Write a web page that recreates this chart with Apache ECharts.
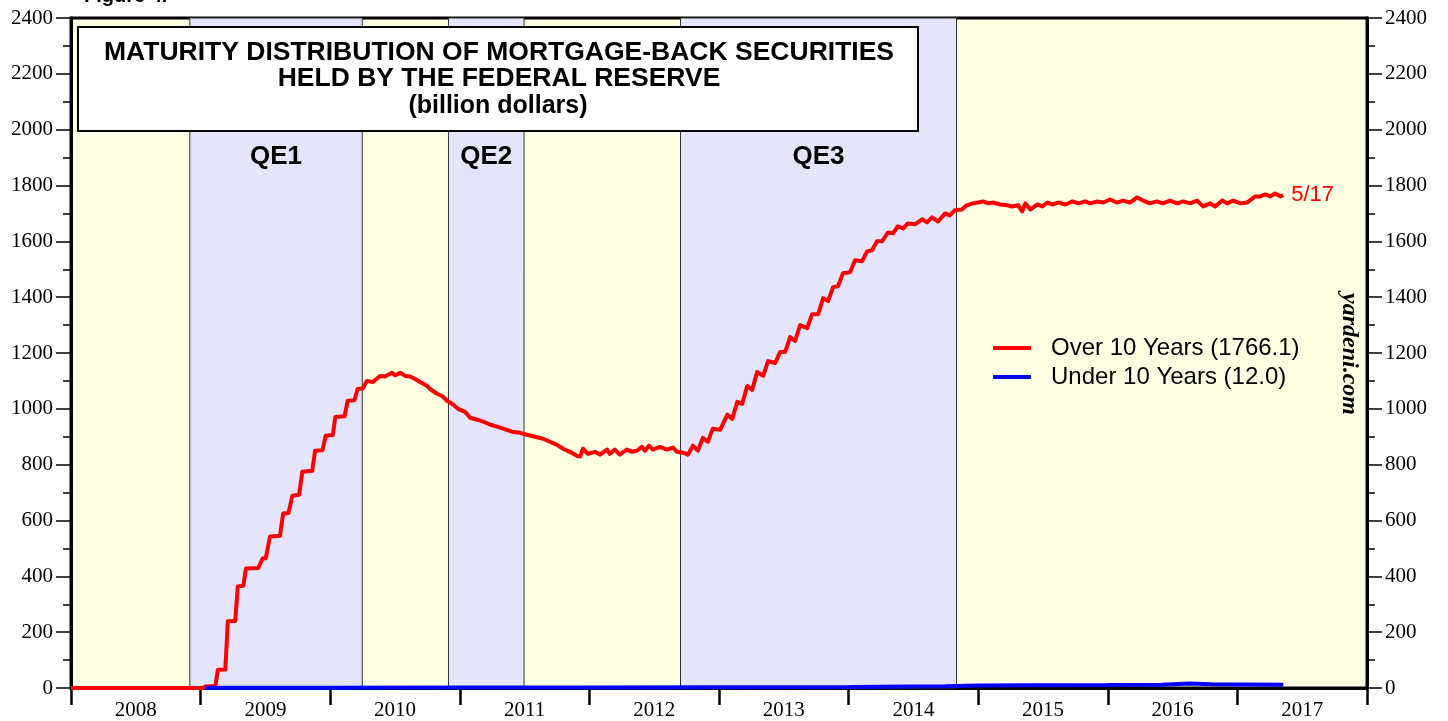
<!DOCTYPE html>
<html>
<head>
<meta charset="utf-8">
<script src="https://cdn.jsdelivr.net/npm/echarts@6/dist/echarts.min.js"></script>
<style>
  html, body { margin: 0; padding: 0; background: #fff; }
  #main { width: 1448px; height: 721px; }
</style>
</head>
<body>
<div id="main"></div>
<script>
// year labels on the x axis
const years = ["2008", "2009", "2010", "2011", "2012", "2013", "2014", "2015", "2016", "2017"];

// Over 10 Years (billion dollars), weekly-ish readings
const overDates = [
  "2008-01-01", "2009-01-07", "2009-01-14", "2009-02-11", "2009-02-18", "2009-03-11", "2009-03-18",
  "2009-04-08", "2009-04-15", "2009-05-01", "2009-05-08", "2009-06-12", "2009-06-24", "2009-07-03",
  "2009-07-15", "2009-08-12", "2009-08-21", "2009-09-05", "2009-09-16", "2009-10-05", "2009-10-14",
  "2009-11-11", "2009-11-19", "2009-12-10", "2009-12-19", "2010-01-08", "2010-01-15", "2010-02-10",
  "2010-02-19", "2010-03-10", "2010-03-19", "2010-04-02", "2010-04-14", "2010-05-01", "2010-05-21",
  "2010-06-04", "2010-06-24", "2010-07-02", "2010-07-17", "2010-07-31", "2010-08-14", "2010-08-28",
  "2010-09-11", "2010-10-01", "2010-10-09", "2010-10-29", "2010-11-12", "2010-11-26", "2010-12-10",
  "2010-12-27", "2011-01-16", "2011-01-30", "2011-02-19", "2011-03-08", "2011-03-28", "2011-04-16",
  "2011-05-03", "2011-05-28", "2011-06-20", "2011-07-09", "2011-08-01", "2011-08-24", "2011-09-12",
  "2011-10-02", "2011-10-19", "2011-11-07", "2011-11-27", "2011-12-06", "2011-12-14", "2011-12-28",
  "2012-01-17", "2012-01-31", "2012-02-20", "2012-02-28", "2012-03-13", "2012-03-27", "2012-04-16",
  "2012-04-30", "2012-05-14", "2012-05-28", "2012-06-06", "2012-06-17", "2012-06-28", "2012-07-18",
  "2012-08-07", "2012-08-24", "2012-09-04", "2012-09-21", "2012-10-05", "2012-10-19", "2012-11-02",
  "2012-11-16", "2012-11-30", "2012-12-14", "2013-01-04", "2013-01-24", "2013-02-07", "2013-02-21",
  "2013-03-07", "2013-03-21", "2013-04-04", "2013-04-18", "2013-05-05", "2013-05-19", "2013-06-08",
  "2013-06-22", "2013-07-06", "2013-07-20", "2013-08-03", "2013-08-17", "2013-09-06", "2013-09-20",
  "2013-10-07", "2013-10-21", "2013-11-04", "2013-11-18", "2013-12-02", "2013-12-16", "2014-01-05",
  "2014-01-19", "2014-02-08", "2014-02-22", "2014-03-08", "2014-03-22", "2014-04-05", "2014-04-22",
  "2014-05-06", "2014-05-20", "2014-06-03", "2014-06-17", "2014-07-07", "2014-07-27", "2014-08-10",
  "2014-08-24", "2014-09-10", "2014-09-30", "2014-10-13", "2014-10-27", "2014-11-16", "2014-11-30",
  "2014-12-17", "2015-01-01", "2015-01-15", "2015-01-29", "2015-02-12", "2015-03-04", "2015-03-24",
  "2015-04-07", "2015-04-24", "2015-05-05", "2015-05-14", "2015-05-28", "2015-06-17", "2015-07-01",
  "2015-07-15", "2015-07-29", "2015-08-15", "2015-09-04", "2015-09-24", "2015-10-11", "2015-10-30",
  "2015-11-13", "2015-12-03", "2015-12-20", "2016-01-08", "2016-01-27", "2016-02-13", "2016-03-04",
  "2016-03-24", "2016-04-10", "2016-04-29", "2016-05-19", "2016-06-05", "2016-06-25", "2016-07-15",
  "2016-08-01", "2016-08-21", "2016-09-09", "2016-09-26", "2016-10-16", "2016-10-30", "2016-11-19",
  "2016-12-03", "2016-12-20", "2017-01-09", "2017-01-28", "2017-02-20", "2017-03-06", "2017-03-20",
  "2017-04-03", "2017-04-17", "2017-05-03", "2017-05-10"
];
const overValues = [
  0, 0, 5, 7, 65, 66, 239,
  240, 364, 366, 428, 430, 464, 465,
  543, 545, 625, 627, 689, 692, 775,
  778, 850, 852, 904, 906, 971, 973,
  1029, 1031, 1071, 1073, 1100, 1096, 1118,
  1116, 1129, 1120, 1129, 1118, 1116, 1107,
  1096, 1082, 1071, 1054, 1046, 1029, 1018,
  1000, 989, 968, 961, 954, 943, 936,
  929, 918, 914, 907, 900, 893, 882,
  871, 857, 846, 832, 829, 857, 839,
  846, 836, 854, 839, 854, 836, 854,
  846, 850, 864, 850, 868, 854, 864,
  854, 861, 846, 843, 836, 868, 850,
  896, 882, 929, 925, 979, 964, 1025,
  1018, 1082, 1068, 1132, 1118, 1171, 1164,
  1204, 1204, 1257, 1243, 1300, 1289, 1339,
  1339, 1396, 1386, 1436, 1439, 1486, 1489,
  1532, 1529, 1564, 1568, 1600, 1600, 1632,
  1629, 1654, 1646, 1664, 1661, 1679, 1668,
  1686, 1671, 1700, 1693, 1711, 1714, 1729,
  1736, 1739, 1743, 1736, 1739, 1732, 1729,
  1725, 1729, 1707, 1736, 1714, 1732, 1725,
  1739, 1732, 1739, 1732, 1743, 1736, 1743,
  1736, 1743, 1739, 1750, 1739, 1746, 1739,
  1757, 1746, 1736, 1743, 1736, 1746, 1736,
  1743, 1736, 1746, 1725, 1736, 1725, 1746,
  1736, 1746, 1736, 1739, 1761, 1761, 1768,
  1761, 1771, 1761, 1766.1
];

// Under 10 Years (billion dollars)
const underDates = [
  "2009-01-14", "2010-01-01", "2011-01-01", "2012-01-01", "2013-01-01", "2014-01-01", "2014-10-01",
  "2015-01-01", "2015-06-01", "2016-01-01", "2016-06-01", "2016-08-20", "2016-10-20", "2017-05-10"
];
const underValues = [0.5, 1, 1.5, 2, 3, 4, 6, 9, 10, 11, 12, 16, 13, 12.0];

// QE periods (shaded)
const qeNames = ["QE1", "QE2", "QE3"];
const qeStarts = ["2008-12-01", "2010-11-30", "2012-09-14"];
const qeEnds = ["2010-04-01", "2011-07-01", "2014-11-01"];

const myChart = echarts.init(document.getElementById("main"));

const serif = "'Liberation Serif', 'DejaVu Serif', serif";
const sans = "'Liberation Sans', Arial, sans-serif";

const yAxisBase = {
  type: "value",
  min: 0,
  max: 2400,
  interval: 200,
  axisLine: { show: true, lineStyle: { color: "#000", width: 3 } },
  axisTick: { show: true, inside: false, length: 15, lineStyle: { color: "#000", width: 1.5 } },
  minorTick: { show: true, splitNumber: 2, length: 8, lineStyle: { color: "#000", width: 1.5 } },
  splitLine: { show: false },
  axisLabel: {
    margin: 18,
    fontFamily: serif,
    fontSize: 21,
    color: "#000",
    formatter: function (v) {
      return String(v);
    },
  },
};

const option = {
  backgroundColor: "#fff",
  animation: false,
  grid: {
    left: 71,
    right: 81,
    top: 18,
    bottom: 30,
    show: true,
    backgroundColor: "#FFFFE4",
    borderColor: "#000",
    borderWidth: 3,
  },
  xAxis: [
    {
      type: "time",
      min: "2008-01-01",
      max: "2018-01-01",
      show: false,
    },
    {
      type: "category",
      data: years,
      position: "bottom",
      boundaryGap: true,
      axisLine: { show: true, lineStyle: { color: "#000", width: 3 } },
      axisTick: { show: true, length: 17, lineStyle: { color: "#000", width: 2.5 } },
      axisLabel: { margin: 12, fontFamily: serif, fontSize: 21, color: "#000" },
      splitLine: { show: false },
    },
  ],
  yAxis: [
    Object.assign({}, yAxisBase, { position: "left" }),
    Object.assign({}, yAxisBase, { position: "right" }),
  ],
  legend: {
    orient: "vertical",
    left: 988,
    top: 331,
    icon: "rect",
    itemWidth: 38,
    itemHeight: 4,
    itemGap: 5,
    textStyle: { fontFamily: sans, fontSize: 24, color: "#000", padding: [0, 0, 0, 15] },
    data: ["Over 10 Years (1766.1)", "Under 10 Years (12.0)"],
  },
  graphic: [
    {
      type: "text",
      left: 84,
      top: -14,
      style: { text: "Figure 4.", font: "bold 20px " + sans, fill: "#000" },
    },
    {
      type: "rect",
      shape: { x: 78, y: 27, width: 840, height: 104 },
      style: { fill: "#fff", stroke: "#000", lineWidth: 2 },
      z: 10,
    },
    {
      type: "text",
      x: 499,
      y: 53,
      z: 11,
      style: {
        text: "MATURITY DISTRIBUTION OF MORTGAGE-BACK SECURITIES",
        font: "bold 26.5px " + sans,
        fill: "#000",
        textAlign: "center",
        textVerticalAlign: "middle",
      },
    },
    {
      type: "text",
      x: 499,
      y: 79,
      z: 11,
      style: {
        text: "HELD BY THE FEDERAL RESERVE",
        font: "bold 26.5px " + sans,
        fill: "#000",
        textAlign: "center",
        textVerticalAlign: "middle",
      },
    },
    {
      type: "text",
      x: 498,
      y: 106,
      z: 11,
      style: {
        text: "(billion dollars)",
        font: "bold 25px " + sans,
        fill: "#000",
        textAlign: "center",
        textVerticalAlign: "middle",
      },
    },
    {
      type: "text",
      x: 1349,
      y: 354,
      rotation: -Math.PI / 2,
      z: 11,
      style: {
        text: "yardeni.com",
        font: "italic bold 24px " + serif,
        fill: "#000",
        textAlign: "center",
        textVerticalAlign: "middle",
      },
    },
  ],
  series: [
    {
      name: "Over 10 Years (1766.1)",
      type: "line",
      xAxisIndex: 0,
      yAxisIndex: 0,
      showSymbol: false,
      symbol: "none",
      data: overDates.map((d, i) => [d, overValues[i]]),
      lineStyle: { color: "#ff0000", width: 4, join: "round" },
      itemStyle: { color: "#ff0000" },
      endLabel: {
        show: true,
        formatter: "5/17",
        color: "#ff0000",
        fontFamily: sans,
        fontSize: 22,
        distance: 8,
      },
      markArea: {
        silent: true,
        itemStyle: { color: "#E4E4FA", borderColor: "#333", borderWidth: 1 },
        label: {
          position: "insideTop",
          distance: 126,
          fontFamily: sans,
          fontWeight: "bold",
          fontSize: 26,
          color: "#000",
        },
        data: qeNames.map((n, i) => [{ name: n, xAxis: qeStarts[i] }, { xAxis: qeEnds[i] }]),
      },
      z: 3,
    },
    {
      name: "Under 10 Years (12.0)",
      type: "line",
      xAxisIndex: 0,
      yAxisIndex: 0,
      showSymbol: false,
      symbol: "none",
      data: underDates.map((d, i) => [d, underValues[i]]),
      lineStyle: { color: "#0000ff", width: 4 },
      itemStyle: { color: "#0000ff" },
      z: 4,
    },
  ],
};

myChart.setOption(option);
</script>
</body>
</html>
